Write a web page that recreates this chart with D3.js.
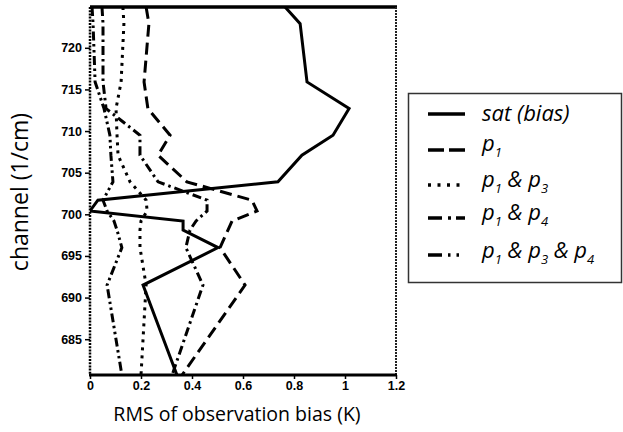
<!DOCTYPE html>
<html>
<head>
<meta charset="utf-8">
<script src="https://cdn.jsdelivr.net/npm/d3@7"></script>
<style>
  html, body { margin: 0; padding: 0; background: #fff; }
  svg { display: block; }
</style>
</head>
<body>
<svg id="chart" width="623" height="432"></svg>
<script>
// Channel wavenumbers (1/cm), top of the plot to bottom
const channels = [724.9, 722.9, 715.9, 712.7, 709.5, 707.1, 703.9, 701.7, 700.4, 699.2, 698.1, 696.0, 691.5, 680.7];

// RMS of observation bias (K) for each configuration
const satBias   = [0.765, 0.824, 0.851, 1.016, 0.953, 0.831, 0.737, 0.031, 0.000, 0.365, 0.365, 0.502, 0.208, 0.341];
const p1        = [0.220, 0.231, 0.212, 0.227, 0.314, 0.267, 0.380, 0.635, 0.655, 0.557, 0.541, 0.510, 0.608, 0.361];
const p1p3      = [0.129, 0.133, 0.122, 0.102, 0.106, 0.110, 0.157, 0.220, 0.224, 0.200, 0.196, 0.196, 0.220, 0.200];
const p1p4      = [0.047, 0.051, 0.051, 0.063, 0.196, 0.196, 0.267, 0.459, 0.459, 0.416, 0.392, 0.376, 0.443, 0.322];
const p1p3p4    = [0.008, 0.012, 0.020, 0.055, 0.078, 0.082, 0.090, 0.051, 0.067, 0.094, 0.106, 0.125, 0.067, 0.125];

const xTicks = [0, 0.2, 0.4, 0.6, 0.8, 1, 1.2];
const yTicks = [685, 690, 695, 700, 705, 710, 715, 720];

const svg = d3.select("#chart");

const plot = { left: 90, right: 396, top: 7, bottom: 375 };

const x = d3.scaleLinear().domain([0, 1.2]).range([plot.left, plot.right]);
const y = d3.scaleLinear().domain([680.7, 724.9]).range([plot.bottom, plot.top]);

// line styles per series: plot dash pattern and legend dash pattern
const styles = [
  { data: satBias, dash: null,            legendDash: null },
  { data: p1,      dash: "12,6",          legendDash: "16,5" },
  { data: p1p3,    dash: "3,5",           legendDash: "3,6.5" },
  { data: p1p4,    dash: "9,4,2.5,4",     legendDash: "14,6,3,5" },
  { data: p1p3p4,  dash: "9,3.5,2.5,3.5,2.5,3.5", legendDash: "14,6,2.5,6,2.5,6" }
];

svg.append("defs").append("clipPath").attr("id", "plotClip")
  .append("rect")
  .attr("x", plot.left).attr("y", plot.top)
  .attr("width", plot.right - plot.left).attr("height", plot.bottom - plot.top);

const line = d3.line()
  .x(d => x(d[0]))
  .y(d => y(d[1]));

const lines = svg.append("g").attr("clip-path", "url(#plotClip)");
styles.forEach(s => {
  const pts = channels.map((c, i) => [s.data[i], c]);
  lines.append("path")
    .attr("d", line(pts))
    .attr("fill", "none")
    .attr("stroke", "#000")
    .attr("stroke-width", 3)
    .attr("stroke-linejoin", "miter")
    .attr("stroke-dasharray", s.dash);
});

// axes
const tickFont = "'Liberation Sans', Arial, sans-serif";
const yAxis = d3.axisLeft(y).tickValues(yTicks).tickSize(5).tickPadding(3).tickFormat(d3.format("d"));
const gy = svg.append("g").attr("transform", `translate(${plot.left},0)`).call(yAxis);
gy.select(".domain").remove();
gy.selectAll(".tick line").attr("stroke", "#000").attr("stroke-width", 1.5);
gy.selectAll(".tick text")
  .attr("font-family", tickFont)
  .attr("font-weight", "bold")
  .attr("font-size", 12.5)
  .attr("fill", "#000");

const xAxis = d3.axisBottom(x).tickValues(xTicks).tickSize(4).tickPadding(2).tickFormat(d => String(d));
const gx = svg.append("g").attr("transform", `translate(0,${plot.bottom})`).call(xAxis);
gx.select(".domain").remove();
gx.selectAll(".tick line").attr("stroke", "#000").attr("stroke-width", 1.5);
gx.selectAll(".tick text")
  .attr("font-family", tickFont)
  .attr("font-weight", "bold")
  .attr("font-size", 12.5)
  .attr("fill", "#000");

// frame
const frame = svg.append("g");
frame.append("line")
  .attr("x1", plot.left).attr("x2", plot.right + 1).attr("y1", plot.top).attr("y2", plot.top)
  .attr("stroke", "#000").attr("stroke-width", 3.5);
frame.append("line")
  .attr("x1", plot.right).attr("x2", plot.right).attr("y1", plot.top).attr("y2", plot.bottom)
  .attr("stroke", "#222").attr("stroke-width", 2).attr("stroke-dasharray", "2,1");
frame.append("line")
  .attr("x1", plot.left).attr("x2", plot.left).attr("y1", plot.top).attr("y2", plot.bottom)
  .attr("stroke", "#000").attr("stroke-width", 2.5).attr("stroke-dasharray", "2,1.2");
frame.append("line")
  .attr("x1", plot.left - 1).attr("x2", plot.right + 1).attr("y1", plot.bottom).attr("y2", plot.bottom)
  .attr("stroke", "#000").attr("stroke-width", 3);

// axis titles
svg.append("text")
  .attr("x", 237).attr("y", 421)
  .attr("text-anchor", "middle")
  .attr("font-family", "'Open Sans', sans-serif")
  .attr("font-size", 19.5)
  .attr("fill", "#000")
  .text("RMS of observation bias (K)");

svg.append("text")
  .attr("transform", "translate(28,192) rotate(-90)")
  .attr("text-anchor", "middle")
  .attr("font-family", "'Open Sans', sans-serif")
  .attr("font-size", 23)
  .attr("fill", "#000")
  .text("channel (1/cm)");

// legend
const legend = svg.append("g");
legend.append("rect")
  .attr("x", 408.5).attr("y", 93.5).attr("width", 213).attr("height", 189)
  .attr("fill", "#fff").attr("stroke", "#333").attr("stroke-width", 1.5);

const rowY = [114, 150, 185, 218, 255];
const textY = [121, 151, 187, 220, 258];
const labelParts = [
  [["sat (bias)", false]],
  [["p", false], ["1", true]],
  [["p", false], ["1", true], [" & ", false], ["p", false], ["3", true]],
  [["p", false], ["1", true], [" & ", false], ["p", false], ["4", true]],
  [["p", false], ["1", true], [" & ", false], ["p", false], ["3", true], [" & ", false], ["p", false], ["4", true]]
];

styles.forEach((s, i) => {
  legend.append("line")
    .attr("x1", 428).attr("x2", 465)
    .attr("y1", rowY[i]).attr("y2", rowY[i])
    .attr("stroke", "#000").attr("stroke-width", 3.5)
    .attr("stroke-dasharray", s.legendDash);
  const t = legend.append("text")
    .attr("x", 482).attr("y", textY[i])
    .attr("font-family", "'Open Sans', sans-serif")
    .attr("font-style", "italic")
    .attr("font-size", 22)
    .attr("fill", "#000");
  let lowered = false;
  labelParts[i].forEach(([str, sub]) => {
    const ts = t.append("tspan").text(str);
    if (sub && !lowered) {
      ts.attr("font-size", 13).attr("dy", 6);
      lowered = true;
    } else if (!sub && lowered) {
      ts.attr("dy", -6);
      lowered = false;
    } else if (sub) {
      ts.attr("font-size", 13);
    }
  });
});
</script>
</body>
</html>
